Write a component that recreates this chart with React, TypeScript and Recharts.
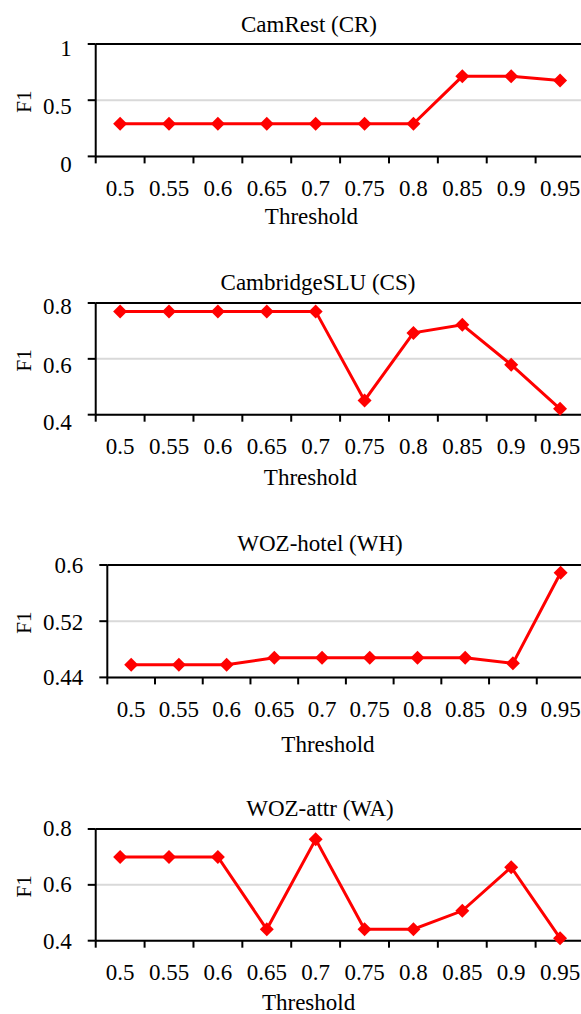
import React from 'react'
import { LineChart, Line, XAxis, YAxis, CartesianGrid, ReferenceLine } from 'recharts'

const FONT = '"Liberation Serif", "Times New Roman", serif'
const RED = '#ff0000'

// thresholds on the x axis (same for all four panels)
const thresholds = ['0.5', '0.55', '0.6', '0.65', '0.7', '0.75', '0.8', '0.85', '0.9', '0.95']

// F1 per dataset
const crF1 = [0.29, 0.29, 0.29, 0.29, 0.29, 0.29, 0.29, 0.712, 0.712, 0.676]
const csF1 = [0.77, 0.77, 0.77, 0.77, 0.77, 0.451, 0.693, 0.722, 0.579, 0.421]
const whF1 = [0.458, 0.458, 0.458, 0.468, 0.468, 0.468, 0.468, 0.468, 0.46, 0.589]
const waF1 = [0.7, 0.7, 0.7, 0.441, 0.763, 0.441, 0.441, 0.507, 0.663, 0.409]

// y axis ticks
const crTicks = [0, 0.5, 1]
const csTicks = [0.4, 0.6, 0.8]
const whTicks = [0.44, 0.52, 0.6]
const waTicks = [0.4, 0.6, 0.8]

const PLOT_RIGHT = 584.5
const CHART_W = 600
const TICK_FONT = 23

const panels = [
  { title: 'CamRest (CR)', values: crF1, ticks: crTicks, top: 44.3, bottom: 156.7, left: 95.7, titleX: 309, titleY: 25, labelX: 311.5, labelY: 217, shift: [8, 6, 4] },
  { title: 'CambridgeSLU (CS)', values: csF1, ticks: csTicks, top: 303.3, bottom: 415, left: 95.7, titleX: 318, titleY: 283, labelX: 310.5, labelY: 478, shift: [8, 6.5, 3.5] },
  { title: 'WOZ-hotel (WH)', values: whF1, ticks: whTicks, top: 565.3, bottom: 677.7, left: 107.3, titleX: 320, titleY: 544, labelX: 328, labelY: 745, shift: [0, 1, 0.5] },
  { title: 'WOZ-attr (WA)', values: waF1, ticks: waTicks, top: 829, bottom: 940.7, left: 95.7, titleX: 320, titleY: 809, labelX: 308.6, labelY: 1003, shift: [1, 0, -1] },
]

function Diamond(props: any) {
  const { cx, cy, index } = props
  const r = 7
  return (
    <polygon
      key={`d-${index}`}
      points={`${cx},${cy - r} ${cx + r},${cy} ${cx},${cy + r} ${cx - r},${cy}`}
      fill={RED}
    />
  )
}

function XTick(props: any) {
  const { x, y, payload, half } = props
  return (
    <g>
      <line x1={x - half} x2={x - half} y1={y} y2={y + 7} stroke="#000" strokeWidth={2} />
      <text x={x} y={y + 39.5} textAnchor="middle" fontSize={TICK_FONT} fontFamily={FONT} fill="#000">
        {payload.value}
      </text>
    </g>
  )
}

function YTick(props: any) {
  const { x, y, payload, index, shift } = props
  return (
    <text x={x} y={y + 7.6 + (shift[index] || 0)} textAnchor="end" fontSize={TICK_FONT} fontFamily={FONT} fill="#000">
      {payload.value}
    </text>
  )
}

function Panel({ p }: { p: (typeof panels)[number] }) {
  const data = thresholds.map((t, i) => ({ x: t, f1: p.values[i] }))
  const plotH = p.bottom - p.top
  const band = (PLOT_RIGHT - p.left) / thresholds.length
  const chartTop = p.top - 20
  const cy = plotH / 2 + 20 + 1.5
  return (
    <>
      <div
        style={{
          position: 'absolute', left: p.titleX - 200, width: 400, top: p.titleY - 9,
          textAlign: 'center', fontFamily: FONT, fontSize: 23, lineHeight: '18px', color: '#000',
        }}
      >
        {p.title}
      </div>
      <div style={{ position: 'absolute', left: 0, top: chartTop }}>
        <LineChart
          width={CHART_W}
          height={plotH + 80}
          data={data}
          margin={{ top: 20, right: CHART_W - PLOT_RIGHT, bottom: 0, left: 0 }}
        >
          <CartesianGrid horizontal vertical={false} stroke="#d9d9d9" strokeWidth={2} />
          <XAxis
            dataKey="x"
            type="category"
            height={60}
            padding={{ left: band / 2, right: band / 2 }}
            axisLine={{ stroke: '#000', strokeWidth: 2 }}
            tickLine={false}
            tickSize={0}
            tickMargin={0}
            interval={0}
            tick={(tp: any) => <XTick {...tp} half={band / 2} />}
          />
          <YAxis
            width={p.left}
            domain={[p.ticks[0], p.ticks[p.ticks.length - 1]]}
            ticks={p.ticks}
            interval={0}
            axisLine={{ stroke: '#000', strokeWidth: 2 }}
            tickLine={{ stroke: '#000', strokeWidth: 2 }}
            tickSize={8}
            tickMargin={16}
            tick={(tp: any) => <YTick {...tp} shift={p.shift} />}
            label={{
              content: () => (
                <text
                  x={30.5}
                  y={cy}
                  transform={`rotate(-90, 30.5, ${cy})`}
                  textAnchor="middle"
                  fontSize={21}
                  fontFamily={FONT}
                  fill="#000"
                >
                  F1
                </text>
              ),
            }}
          />
          <ReferenceLine y={p.ticks[p.ticks.length - 1]} stroke="#000" strokeWidth={2} />
          <Line
            dataKey="f1"
            stroke={RED}
            strokeWidth={3}
            dot={Diamond}
            activeDot={false}
            isAnimationActive={false}
          />
        </LineChart>
      </div>
      <div
        style={{
          position: 'absolute', left: p.labelX - 100, width: 200, top: p.labelY - 9,
          textAlign: 'center', fontFamily: FONT, fontSize: 23, lineHeight: '18px', color: '#000',
        }}
      >
        Threshold
      </div>
    </>
  )
}

export default function App() {
  return (
    <div
      style={{
        position: 'fixed', left: 0, top: 0, width: 581, height: 1014,
        overflow: 'hidden', background: '#fff',
      }}
    >
      {panels.map((p) => (
        <Panel key={p.title} p={p} />
      ))}
    </div>
  )
}
